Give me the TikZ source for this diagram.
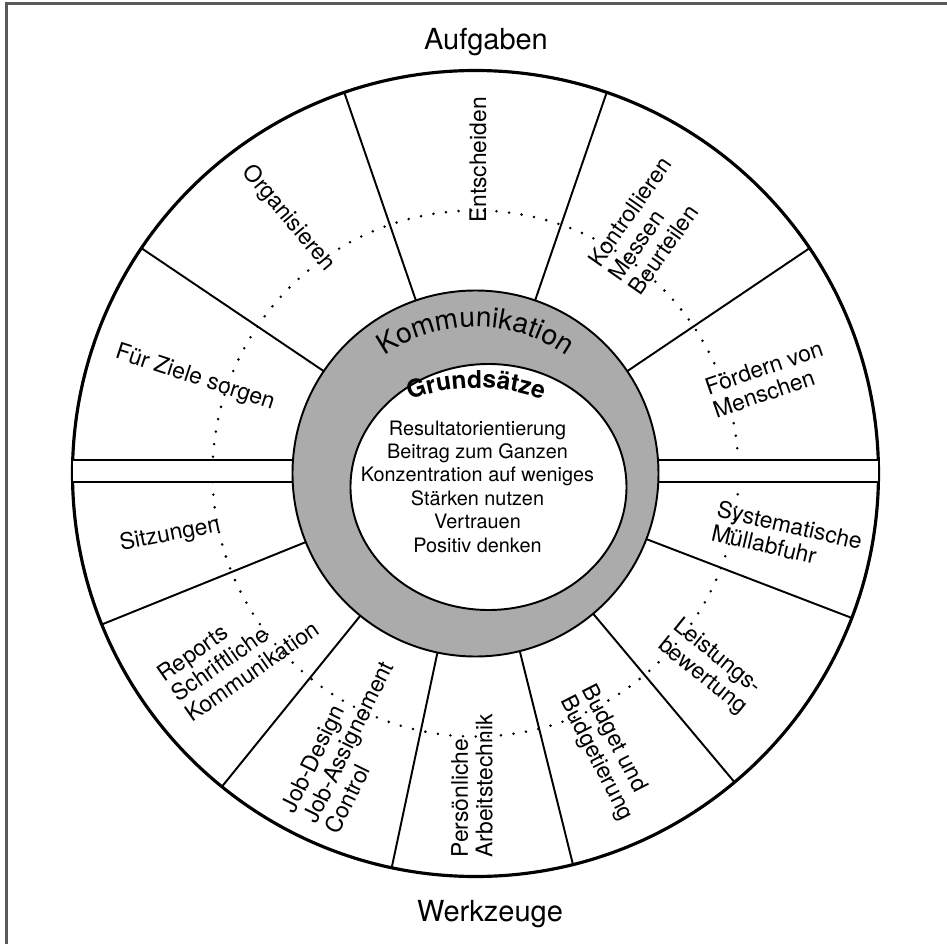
\documentclass[tikz,border=0pt]{standalone}
\usepackage{fontspec}
\setmainfont{TeX Gyre Heros}
\usetikzlibrary{decorations.text}

\begin{document}
\begin{tikzpicture}[x=0.02cm, y=0.02cm,
    rim/.style={draw, line width=1.8pt},
    spoke/.style={draw, line width=1.1pt},
    ring/.style={draw, line width=1.1pt, fill=black!33},
    dots/.style={line width=1.6pt, line cap=round, dash pattern=on 0pt off 7.2pt},
    frameline/.style={draw=black!65, line width=1.2pt},
    seglabel/.style={font=\fontsize{13}{14}\selectfont, align=left, inner sep=0pt},
    heading/.style={font=\fontsize{16.5}{18}\selectfont, anchor=base},
    corelist/.style={font=\fontsize{11.3}{13.3}\selectfont, align=center, inner sep=0pt}
]

\useasboundingbox (-475.5,-470.5) rectangle (471.5,473.5);
\draw[frameline] (-469,-470.5) -- (-469,470) -- (471.5,470);

\draw[rim] (0,0) circle[radius=403];
\draw[dots] (0,0) circle[radius=263];

\foreach \a in {34,71,109,146,202,231,258,284,310,339}
    \draw[spoke] (\a:183) -- (\a:403);

\fill[white] (-402.5,-8.5) rectangle (-182,13.5);
\fill[white] (182,-8.5) rectangle (402.5,13.5);
\draw[spoke] (-402.8,13.5) -- (-182.5,13.5);
\draw[spoke] (-402.9,-8.5) -- (-182.8,-8.5);
\draw[spoke] (182.5,13.5) -- (402.8,13.5);
\draw[spoke] (182.8,-8.5) -- (402.9,-8.5);

\draw[ring] (0,0) circle[radius=183];
\draw[line width=1.1pt, fill=white] (13,-13.5) ellipse[x radius=138, y radius=123];

\path[decorate, decoration={text along path, text align=center,
    text={|\fontsize{16}{16}\selectfont|Kommunikation}}]
    ([shift={(0,-13.5)}]150:160) arc[start angle=150, end angle=30, radius=160];
\path[decorate, decoration={text along path, text align=center,
    text={|\fontsize{14}{14}\selectfont\bfseries|Grundsätze}}]
    ([shift={(0.5,-104.5)}]120:190) arc[start angle=120, end angle=60, radius=190];

\node[corelist] (principles) at (2,-13) {Resultatorientierung\\Beitrag zum Ganzen\\Konzentration auf weniges\\Stärken nutzen\\Vertrauen\\Positiv denken};

\node[heading] (tasks) at (10.5,423.5) {Aufgaben};
\node[heading] (tools) at (14.5,-448) {Werkzeuge};

\node[seglabel, rotate=-18] (goals) at (-280.5,95.5) {Für Ziele sorgen};
\node[seglabel, rotate=-50] (organise) at (-187,255) {Organisieren};
\node[seglabel, rotate=90] (decide) at (2.5,313.5) {Entscheiden};
\node[seglabel, rotate=55] (control) at (174.5,247.5) {Kontrollieren\\Messen\\Beurteilen};
\node[seglabel, rotate=19] (develop) at (292.5,94.5) {Fördern von\\Menschen};

\node[seglabel, rotate=11] (meetings) at (-305.5,-61.5) {Sitzungen};
\node[seglabel, rotate=35] (reports) at (-237.5,-177.5) {Reports\\Schriftliche\\Kommunikation};
\node[seglabel, rotate=64] (jobdesign) at (-127.5,-268.5) {Job-Design\\Job-Assignement\\Control};
\node[seglabel, rotate=90] (worktech) at (-3.5,-312.5) {Persönliche\\Arbeitstechnik};
\node[seglabel, rotate=-63] (budget) at (131.5,-279.5) {Budget und\\Budgetierung};
\node[seglabel, rotate=-39] (appraisal) at (234.5,-193.5) {Leistungs-\\bewertung};
\node[seglabel, rotate=-13] (waste) at (311.5,-63.5) {Systematische\\Müllabfuhr};

\end{tikzpicture}
\end{document}
